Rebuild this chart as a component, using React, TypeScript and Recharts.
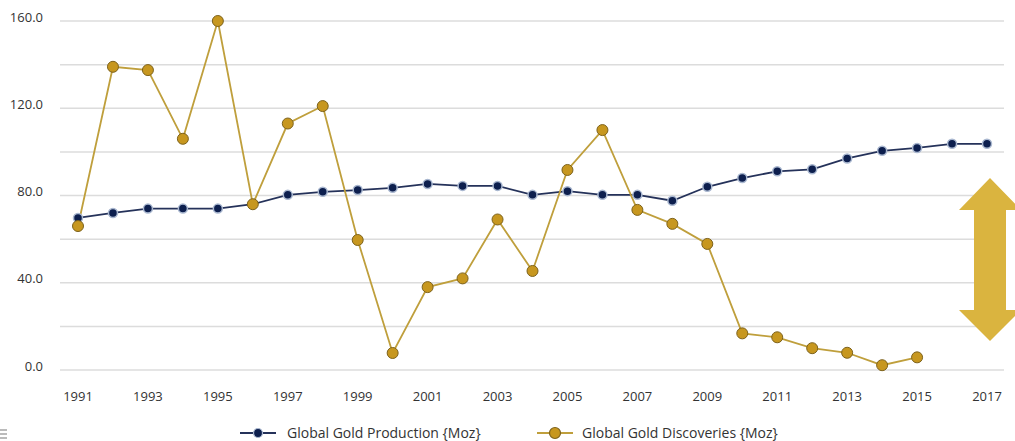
import { LineChart, Line, XAxis, YAxis, CartesianGrid } from 'recharts';

const years = [
  '1991', '1992', '1993', '1994', '1995', '1996', '1997', '1998', '1999', '2000',
  '2001', '2002', '2003', '2004', '2005', '2006', '2007', '2008', '2009', '2010',
  '2011', '2012', '2013', '2014', '2015', '2016', '2017',
];

// Global Gold Production (Moz)
const production = [
  69.7, 72, 74, 74, 74, 76, 80.3, 81.7, 82.5, 83.5,
  85.3, 84.4, 84.4, 80.3, 82, 80.3, 80.3, 77.6, 84, 88,
  91.1, 92, 97, 100.5, 101.8, 103.7, 103.7,
];

// Global Gold Discoveries (Moz) - no data after 2015
const discoveries: (number | null)[] = [
  66, 139, 137.5, 106, 160, 76, 113, 121, 59.6, 7.8,
  38, 42, 69, 45.4, 91.7, 110, 73.4, 67, 57.8, 16.8,
  15, 10, 7.9, 2.2, 5.8, null, null,
];

const yTicks = [0, 20, 40, 60, 80, 100, 120, 140, 160];

const data = years.map((y, i) => ({
  year: y,
  production: production[i],
  discoveries: discoveries[i],
}));

const FONT = '"Open Sans", sans-serif';
const NAVY = '#0d1f4e';
const NAVY_LINE = '#25325a';
const GOLD = '#c7971f';
const GOLD_LINE = '#bf9f3c';
const ARROW = '#dab43f';

const NavyDot = (props: any) => {
  const { cx, cy } = props;
  if (cx == null || cy == null) return null;
  return <circle cx={cx} cy={cy} r={4.5} fill={NAVY} stroke="#aab8d0" strokeWidth={1.5} />;
};

const GoldDot = (props: any) => {
  const { cx, cy, value } = props;
  if (cx == null || cy == null || value == null) return null;
  return <circle cx={cx} cy={cy} r={5.5} fill={GOLD} stroke="#7d621c" strokeWidth={1} />;
};

const LegendIcon = ({ line, fill, stroke, r }: { line: string; fill: string; stroke: string; r: number }) => (
  <svg width={36} height={14} style={{ display: 'block' }}>
    <line x1={0} y1={7} x2={36} y2={7} stroke={line} strokeWidth={2} />
    <circle cx={18} cy={7} r={r} fill={fill} stroke={stroke} strokeWidth={1.2} />
  </svg>
);

const legendItem: React.CSSProperties = {
  position: 'absolute',
  top: 425,
  height: 15,
  lineHeight: '15px',
  fontFamily: FONT,
  fontSize: 14,
  color: '#333',
  display: 'flex',
  alignItems: 'center',
  whiteSpace: 'nowrap',
};

const App = () => {
  return (
    <div style={{ position: 'absolute', left: 0, top: 0, width: 1015, height: 441, background: '#fff', overflow: 'hidden' }}>
      <LineChart width={1015} height={441} data={data} margin={{ top: 21, right: 11, left: 0, bottom: 41 }}>
        <CartesianGrid vertical={false} stroke="#dcdcdc" strokeWidth={1.5} />
        <XAxis
          dataKey="year"
          interval={1}
          axisLine={false}
          tickLine={false}
          tickSize={0}
          tickMargin={22}
          height={30}
          padding={{ left: 18, right: 17 }}
          tick={{ fill: '#333', fontSize: 13, fontFamily: FONT }}
        />
        <YAxis
          domain={[0, 160]}
          ticks={yTicks}
          interval={0}
          width={60}
          axisLine={false}
          tickLine={false}
          tickSize={0}
          tickMargin={17}
          tickFormatter={(v: number) => (v % 40 === 0 ? v.toFixed(1) : '')}
          tick={{ fill: '#333', fontSize: 13, fontFamily: FONT, dy: -4 }}
        />
        <Line
          type="linear"
          dataKey="production"
          stroke={NAVY_LINE}
          strokeWidth={1.8}
          dot={<NavyDot />}
          activeDot={false}
          isAnimationActive={false}
        />
        <Line
          type="linear"
          dataKey="discoveries"
          stroke={GOLD_LINE}
          strokeWidth={1.8}
          dot={<GoldDot />}
          activeDot={false}
          isAnimationActive={false}
        />
      </LineChart>

      {/* double-headed arrow on the right */}
      <svg width={70} height={170} style={{ position: 'absolute', left: 955, top: 175 }}>
        <polygon
          points="35,3 66,35 51,35 51,135 66,135 35,166 4,135 19,135 19,35 4,35"
          fill={ARROW}
        />
      </svg>

      {/* legend */}
      <div style={{ ...legendItem, left: 240 }}>
        <LegendIcon line={NAVY_LINE} fill={NAVY} stroke="#aab8d0" r={4.5} />
        <span style={{ marginLeft: 11 }}>Global Gold Production {'{Moz}'}</span>
      </div>
      <div style={{ ...legendItem, left: 537 }}>
        <LegendIcon line={GOLD_LINE} fill={GOLD} stroke="#7d621c" r={5.5} />
        <span style={{ marginLeft: 9 }}>Global Gold Discoveries {'{Moz}'}</span>
      </div>

      {/* small grey marks at the bottom-left edge */}
      <div style={{ position: 'absolute', left: 0, top: 429, width: 7, height: 2, background: '#bbb' }} />
      <div style={{ position: 'absolute', left: 0, top: 433, width: 7, height: 2, background: '#bbb' }} />
      <div style={{ position: 'absolute', left: 0, top: 437, width: 7, height: 2, background: '#bbb' }} />
    </div>
  );
};

export default App;
